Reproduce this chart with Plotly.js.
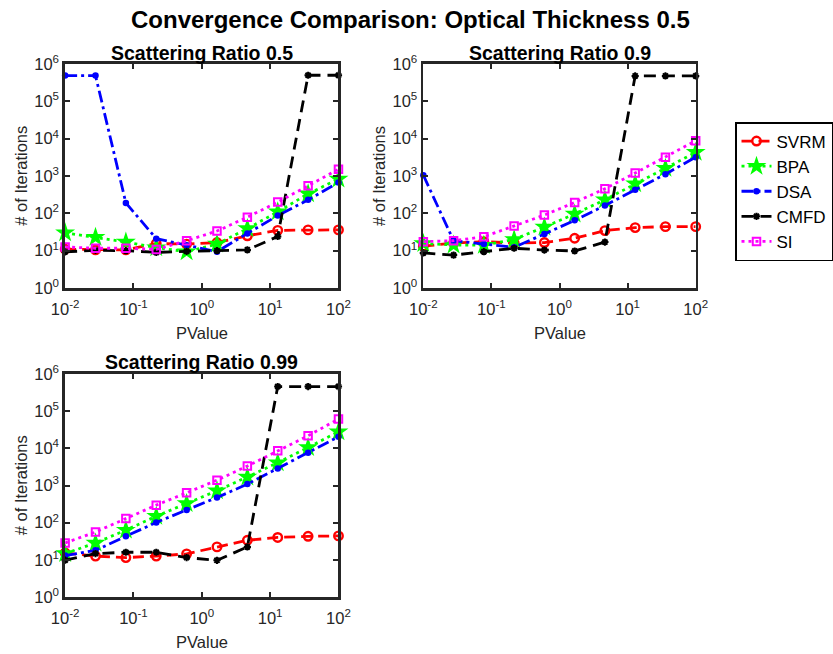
<!DOCTYPE html>
<html>
<head>
<meta charset="utf-8">
<script src="https://cdn.plot.ly/plotly-3.0.1.min.js"></script>
<style>html,body{margin:0;padding:0;background:#fff;}#chart{width:833px;height:654px;}</style>
</head>
<body>
<div id="chart"></div>
<script>
// ---- data ----
var pValues = [0.01, 0.02783, 0.07743, 0.2154, 0.5995, 1.668, 4.642, 12.92, 35.94, 100];
var methods = ['SVRM', 'BPA', 'DSA', 'CMFD', 'SI'];
var panelTitles = ['Scattering Ratio 0.5', 'Scattering Ratio 0.9', 'Scattering Ratio 0.99'];
var mainTitle = 'Convergence Comparison: Optical Thickness 0.5';

// Scattering ratio 0.5
var svrm05 = [10.9, 10.5, 10.5, 15.5, 15, 16.5, 25, 35, 36, 36];
var bpa05  = [30, 23, 17, 12, 9.4, 15, 39, 110, 333, 830];
var dsa05  = [4.9e5, 4.9e5, 190, 21, 14, 9.4, 29, 87, 230, 670];
var cmfd05 = [9.3, 10.2, 10, 9, 9.6, 10, 10.5, 24, 5e5, 5e5];
var si05   = [12.6, 11.6, 11.6, 10.8, 18.5, 33.5, 79, 200, 545, 1520];

// Scattering ratio 0.9
var svrm09 = [13.2, 16, 17.4, 16, 16.5, 21.5, 34.5, 41.5, 44, 44];
var bpa09  = [15.5, 14.2, 14, 20, 43, 96, 230, 620, 1620, 4300];
var dsa09  = [1050, 18.5, 15, 12.3, 28, 65, 162, 425, 1120, 3200];
var cmfd09 = [8.7, 7.6, 9.4, 11.6, 10.4, 9.8, 17, 4.8e5, 4.8e5, 4.8e5];
var si09   = [17.4, 18.5, 23.5, 46, 90, 195, 455, 1200, 3200, 8800];

// Scattering ratio 0.99
var svrm099 = [15.4, 12.6, 11.5, 12.6, 14.5, 22.3, 33.6, 40, 43, 44];
var bpa099  = [14.7, 28.5, 63, 149, 328, 720, 1700, 4100, 10600, 28000];
var dsa099  = [13, 18, 43, 101, 220, 475, 1090, 2880, 7600, 20500];
var cmfd099 = [9.8, 14.7, 16, 16, 11.5, 9.7, 22.3, 4.6e5, 4.6e5, 4.6e5];
var si099   = [28.5, 56, 129, 296, 635, 1390, 3330, 8650, 21800, 61500];

var xTickVals = [0.01, 0.1, 1, 10, 100];
var xTickText = ['10<sup>-2</sup>', '10<sup>-1</sup>', '10<sup>0</sup>', '10<sup>1</sup>', '10<sup>2</sup>'];
var yTickVals = [1, 10, 100, 1000, 10000, 100000, 1000000];
var yTickText = ['10<sup>0</sup>', '10<sup>1</sup>', '10<sup>2</sup>', '10<sup>3</sup>', '10<sup>4</sup>', '10<sup>5</sup>', '10<sup>6</sup>'];

var panels = [
  [svrm05, bpa05, dsa05, cmfd05, si05],
  [svrm09, bpa09, dsa09, cmfd09, si09],
  [svrm099, bpa099, dsa099, cmfd099, si099]
];

// ---- styles ----
var styles = [
  {color: '#ff0000', dash: '11px,6px', symbol: 'circle-open', size: 8.5, mlw: 2.4},
  {color: '#00ff00', dash: '3px,4px', symbol: 'star', size: 15, mlw: 0},
  {color: '#0000ff', dash: '12px,4px,3px,4px', symbol: 'circle', size: 6.5, mlw: 0},
  {color: '#000000', dash: '12px,7px', symbol: 'asterisk-open', size: 6, mlw: 2},
  {color: '#ff00ff', dash: '3px,4px', symbol: 'square-open', size: 7.5, mlw: 2}
];

var W = 833, H = 654;
var boxes = [
  {l: 66, r: 343, t: 64, b: 288},
  {l: 429, r: 705, t: 64, b: 288},
  {l: 66, r: 343, t: 374, b: 597}
];

var traces = [];
panels.forEach(function (series, p) {
  series.forEach(function (vals, m) {
    var s = styles[m];
    traces.push({
      x: pValues, y: vals, name: methods[m], type: 'scatter', mode: 'lines+markers',
      xaxis: p === 0 ? 'x' : 'x' + (p + 1), yaxis: p === 0 ? 'y' : 'y' + (p + 1),
      showlegend: p === 0,
      line: {color: s.color, width: 2.8, dash: s.dash},
      marker: {symbol: s.symbol, size: s.size, color: s.color, line: {color: s.color, width: s.mlw}},
      cliponaxis: false
    });
  });
});

var axisFont = {family: 'Liberation Sans, Arial, sans-serif', size: 16.5, color: '#262626'};
function xAx(box, anchor) {
  return {
    type: 'log', range: [-2, 2], domain: [box.l / W, box.r / W], anchor: anchor,
    tickvals: xTickVals, ticktext: xTickText, ticks: 'inside', ticklen: 5, tickwidth: 2,
    tickcolor: '#262626', showline: true, linecolor: '#262626', linewidth: 2.8, mirror: 'ticks',
    showgrid: false, zeroline: false, tickfont: axisFont, fixedrange: true, ticklabelstandoff: 4
  };
}
function yAx(box, anchor) {
  return {
    type: 'log', range: [0, 6], domain: [(H - box.b) / H, (H - box.t) / H], anchor: anchor,
    tickvals: yTickVals, ticktext: yTickText, ticks: 'inside', ticklen: 5, tickwidth: 2,
    tickcolor: '#262626', showline: true, linecolor: '#262626', linewidth: 2.8, mirror: 'ticks',
    showgrid: false, zeroline: false, tickfont: axisFont, fixedrange: true
  };
}

var annFontLabel = {family: 'Liberation Sans, Arial, sans-serif', size: 16.5, color: '#262626'};
var annotations = [];
annotations.push({text: '<b>' + mainTitle + '</b>', x: 416 / W, y: (H - 20) / H, xref: 'paper', yref: 'paper',
  xanchor: 'center', yanchor: 'middle', showarrow: false,
  font: {family: 'Liberation Sans, Arial, sans-serif', size: 24, color: '#000000'}});
var titleY = [53, 53, 362];
boxes.forEach(function (b, i) {
  annotations.push({text: '<b>' + panelTitles[i] + '</b>', x: (b.l + b.r) / 2 / W, y: (H - titleY[i]) / H,
    xref: 'paper', yref: 'paper', xanchor: 'center', yanchor: 'middle', showarrow: false,
    font: {family: 'Liberation Sans, Arial, sans-serif', size: 19.5, color: '#000000'}});
  annotations.push({text: '# of Iterations', x: (b.l - 45) / W, y: (H - (b.t + b.b) / 2) / H,
    xref: 'paper', yref: 'paper', xanchor: 'center', yanchor: 'middle', showarrow: false, textangle: -90,
    font: annFontLabel});
  annotations.push({text: 'PValue', x: (b.l + b.r) / 2 / W, y: (H - (b.b + 45)) / H,
    xref: 'paper', yref: 'paper', xanchor: 'center', yanchor: 'middle', showarrow: false,
    font: annFontLabel});
});

var layout = {
  width: W, height: H, margin: {l: 0, r: 0, t: 0, b: 0}, paper_bgcolor: '#ffffff', plot_bgcolor: '#ffffff',
  xaxis: xAx(boxes[0], 'y'), yaxis: yAx(boxes[0], 'x'),
  xaxis2: xAx(boxes[1], 'y2'), yaxis2: yAx(boxes[1], 'x2'),
  xaxis3: xAx(boxes[2], 'y3'), yaxis3: yAx(boxes[2], 'x3'),
  showlegend: true,
  legend: {x: 745 / W, y: (H - 122) / H, xanchor: 'left', yanchor: 'top', bgcolor: '#ffffff',
    bordercolor: '#000000', borderwidth: 1.5, font: {family: 'Liberation Sans, Arial, sans-serif', size: 17, color: '#000000'},
    tracegroupgap: 0, itemwidth: 30},
  annotations: annotations
};

Plotly.newPlot('chart', traces, layout, {staticPlot: true, displayModeBar: false});
</script>
</body>
</html>
